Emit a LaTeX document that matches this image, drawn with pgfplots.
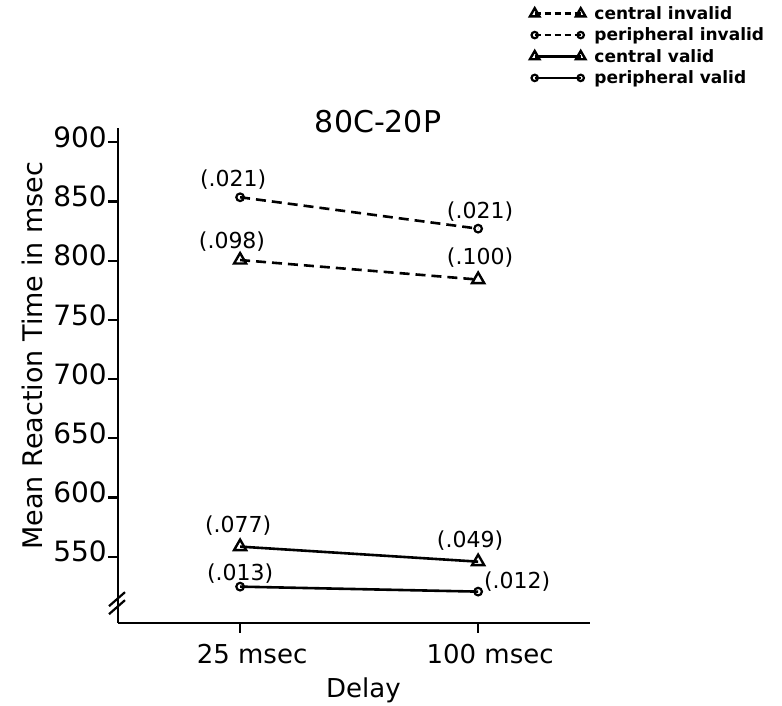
\documentclass[border=0pt]{standalone}
\usepackage{fontspec}
\setmainfont{DejaVu Sans}
\usepackage{pgfplots}
\pgfplotsset{compat=1.18}

\begin{document}
\begin{tikzpicture}
\begin{axis}[
  at={(0pt,0pt)}, anchor=south west,
  scale only axis,
  width=472pt, height=495pt,
  xmin=-0.513, xmax=1.47,
  ymin=494, ymax=912,
  axis lines=left,
  axis line style={-, line width=2.6pt},
  xtick={0,1}, xticklabels={25 msec,100 msec},
  ytick={550,600,...,900},
  tick align=outside,
  major tick length=10pt,
  tick style={line width=2.2pt, black},
  /pgf/number format/assume math mode=true,
  yticklabel style={font=\fontsize{28}{30}\selectfont, inner sep=1pt, yshift=5pt},
  xticklabel style={font=\fontsize{26}{28}\selectfont, yshift=-8pt, xshift=12pt},
  xlabel={Delay}, ylabel={Mean Reaction Time in msec},
  every axis x label/.style={at={(rel axis cs:0.52,0)}, yshift=-67pt, anchor=center,
    font=\fontsize{26}{28}\selectfont},
  every axis y label/.style={at={(rel axis cs:0,0.54)}, xshift=-86pt, rotate=90, anchor=center,
    font=\fontsize{27}{29}\selectfont},
  legend style={at={(rel axis cs:0.866,1.252)}, anchor=north west,
    draw=none, fill=none, row sep=5pt,
    nodes={inner xsep=9pt, inner ysep=1pt},
    font=\fontsize{17}{19}\bfseries\selectfont},
  legend cell align=left,
  legend image code/.code={\draw[#1] plot coordinates {(0pt,0pt) (46pt,0pt)};},
  clip=false,
]
% central invalid
\addplot[black, line width=2.6pt, dash pattern=on 10pt off 6pt, mark=triangle, mark size=7pt,
  mark options={solid, line width=2.4pt}, legend image post style={mark size=5.5pt, dash pattern=on 6pt off 4pt}]
  coordinates {(0,800.5) (1,784)};
% peripheral invalid
\addplot[black, line width=2.6pt, dash pattern=on 10pt off 6pt, mark=o, mark size=3.8pt,
  mark options={solid, line width=2.2pt}, legend image post style={mark size=3.2pt, dash pattern=on 6pt off 4pt}]
  coordinates {(0,853.5) (1,827)};
% central valid
\addplot[black, line width=2.6pt, mark=triangle, mark size=7pt, mark options={line width=2.4pt},
  legend image post style={mark size=5.5pt}]
  coordinates {(0,558.5) (1,545.8)};
% peripheral valid
\addplot[black, line width=2.6pt, mark=o, mark size=3.8pt, mark options={line width=2.2pt},
  legend image post style={mark size=3.2pt}]
  coordinates {(0,524.7) (1,520.5)};
\legend{central invalid, peripheral invalid, central valid, peripheral valid}

% error values
\begin{scope}[every node/.style={font=\fontsize{22}{24}\selectfont}]
\node at (axis cs:-0.029,868.7) {(.021)};
\node at (axis cs:1.008,841.7) {(.021)};
\node at (axis cs:-0.034,816.3) {(.098)};
\node at (axis cs:1.008,802.8) {(.100)};
\node at (axis cs:-0.008,576.2) {(.077)};
\node at (axis cs:0.966,563.6) {(.049)};
\node at (axis cs:0,535.7) {(.013)};
\node at (axis cs:1.164,528.9) {(.012)};
\end{scope}

\node[font=\fontsize{30}{32}\selectfont] at (rel axis cs:0.551,1.012) {80C-20P};

% axis break
\draw[line width=2.2pt] ([xshift=-9pt,yshift=-9pt]rel axis cs:0,0.036) -- ++(16pt,14pt);
\draw[line width=2.2pt] ([xshift=-9pt,yshift=-1pt]rel axis cs:0,0.036) -- ++(16pt,14pt);
\end{axis}
\pgfresetboundingbox
\path[use as bounding box] (-118pt,-83pt) rectangle (664pt,623pt);
\end{tikzpicture}
\end{document}
